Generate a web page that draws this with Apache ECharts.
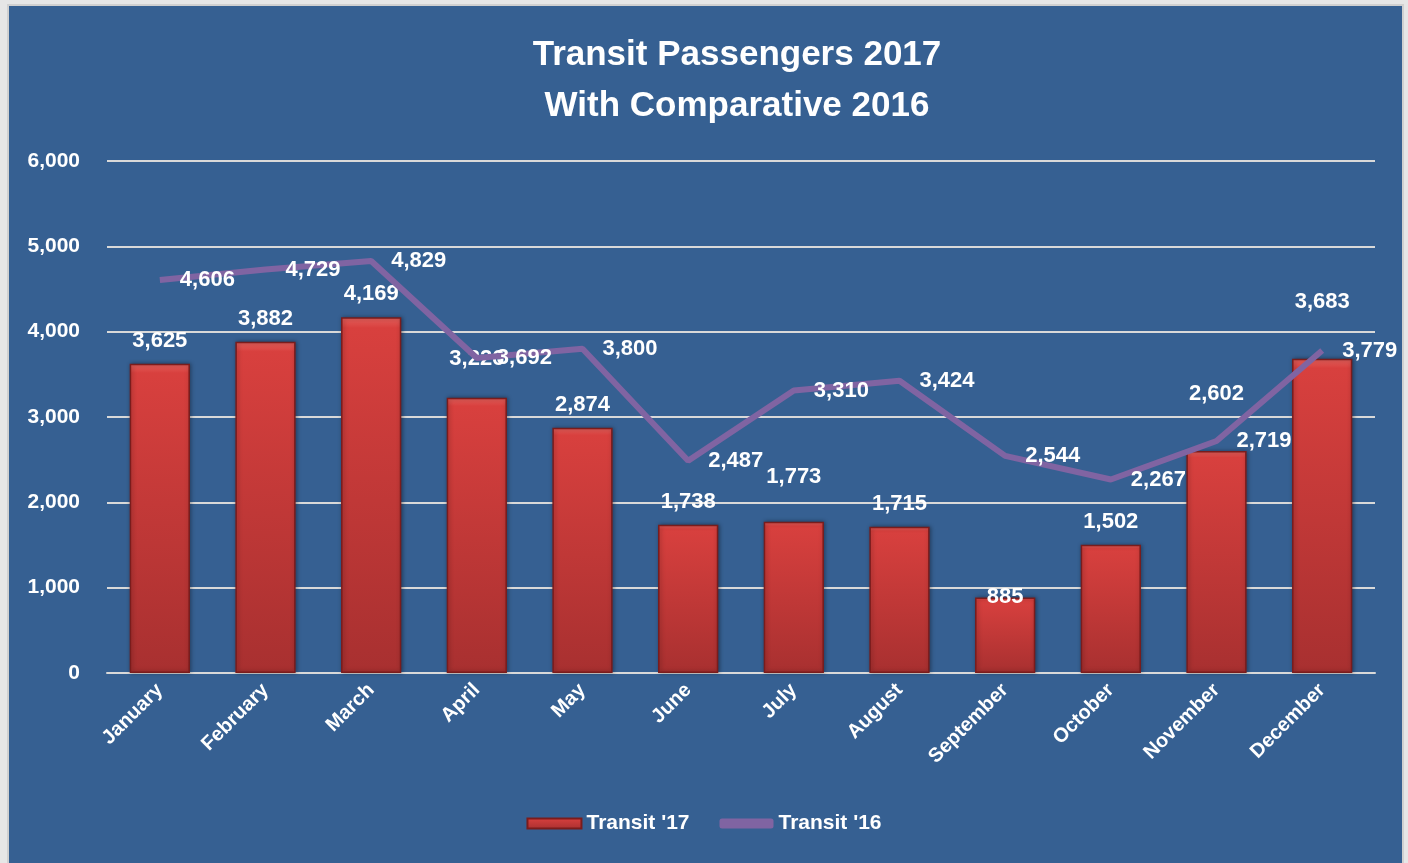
<!DOCTYPE html>
<html>
<head>
<meta charset="utf-8">
<title>Transit Passengers 2017</title>
<script src="https://cdn.jsdelivr.net/npm/echarts@6/dist/echarts.min.js"></script>
<style>
  html, body { margin: 0; padding: 0; background: #e6e6e6; }
  #chart { width: 1408px; height: 863px; }
</style>
</head>
<body>
<div id="chart"></div>
<script>
// categories and values
var months = ["January", "February", "March", "April", "May", "June",
  "July", "August", "September", "October", "November", "December"];
var transit17 = [3625, 3882, 4169, 3226, 2874, 1738, 1773, 1715, 885, 1502, 2602, 3683];
var transit16 = [4606, 4729, 4829, 3692, 3800, 2487, 3310, 3424, 2544, 2267, 2719, 3779];
var yTicks = [0, 1000, 2000, 3000, 4000, 5000, 6000];

// some bar labels were moved by hand in the original
var barLabelShift = { 3: -16, 6: -22, 8: 22, 10: -34, 11: -34 };

var font = "'Liberation Sans', Arial, sans-serif";

var barData = transit17.map(function (v, i) {
  var item = { value: v };
  if (barLabelShift[i] !== undefined) {
    item.label = { offset: [0, barLabelShift[i]] };
  }
  return item;
});

function fmt(p) { return p.value.toLocaleString("en-US"); }

var chart = echarts.init(document.getElementById("chart"));
chart.setOption({
  backgroundColor: "#e6e6e6",
  textStyle: { fontFamily: font },
  graphic: [{
    type: "rect",
    z: -10,
    shape: { x: 8, y: 5, width: 1395, height: 862 },
    style: { fill: "#366092", stroke: "#d0d0d0", lineWidth: 2 }
  }],
  title: {
    text: "Transit Passengers 2017\nWith Comparative 2016",
    left: 732,
    textAlign: "center",
    top: 25,
    textStyle: {
      color: "#fff",
      fontSize: 35,
      fontWeight: "bold",
      lineHeight: 51,
      fontFamily: font
    }
  },
  legend: {
    bottom: 24,
    left: "center",
    itemGap: 30,
    itemWidth: 54,
    itemHeight: 10,
    textStyle: { color: "#fff", fontSize: 21, fontWeight: "bold", fontFamily: font },
    data: [
      { name: "Transit '17", icon: "rect" },
      { name: "Transit '16", icon: "roundRect" }
    ]
  },
  grid: { left: 107, right: 33, top: 161, bottom: 190 },
  xAxis: {
    type: "category",
    data: months,
    axisTick: { show: false },
    axisLine: { lineStyle: { color: "#d9d9d9", width: 2 } },
    axisLabel: {
      interval: 0,
      rotate: 45,
      margin: 14,
      color: "#fff",
      fontSize: 20,
      fontWeight: "bold",
      fontFamily: font
    }
  },
  yAxis: {
    type: "value",
    min: yTicks[0],
    max: yTicks[yTicks.length - 1],
    interval: 1000,
    axisLine: { show: false },
    axisTick: { show: false },
    splitLine: { lineStyle: { color: "#d9d9d9", width: 2 } },
    axisLabel: {
      margin: 27,
      color: "#fff",
      fontSize: 21,
      fontWeight: "bold",
      fontFamily: font,
      formatter: function (v) { return v.toLocaleString("en-US"); }
    }
  },
  series: [
    {
      name: "Transit '17",
      type: "bar",
      data: barData,
      barWidth: "57%",
      itemStyle: {
        color: new echarts.graphic.LinearGradient(0, 0, 0, 1, [
          { offset: 0, color: "#e4605c" },
          { offset: 0.03, color: "#d8403e" },
          { offset: 1, color: "#a83030" }
        ]),
        borderColor: "#7a1c1c",
        borderWidth: 1.5,
        shadowColor: "rgba(0,0,0,0.35)",
        shadowBlur: 4,
        shadowOffsetX: 1
      },
      label: {
        show: true,
        position: "top",
        distance: 12,
        color: "#fff",
        fontSize: 22,
        fontWeight: "bold",
        fontFamily: font,
        formatter: fmt
      }
    },
    {
      name: "Transit '16",
      type: "line",
      data: transit16,
      symbol: "circle",
      symbolSize: 0,
      showSymbol: true,
      z: 3,
      lineStyle: { color: "#8064a2", width: 6 },
      itemStyle: { color: "#8064a2" },
      label: {
        show: true,
        position: "right",
        distance: 20,
        color: "#fff",
        fontSize: 22,
        fontWeight: "bold",
        fontFamily: font,
        formatter: fmt
      }
    }
  ]
});
</script>
</body>
</html>
